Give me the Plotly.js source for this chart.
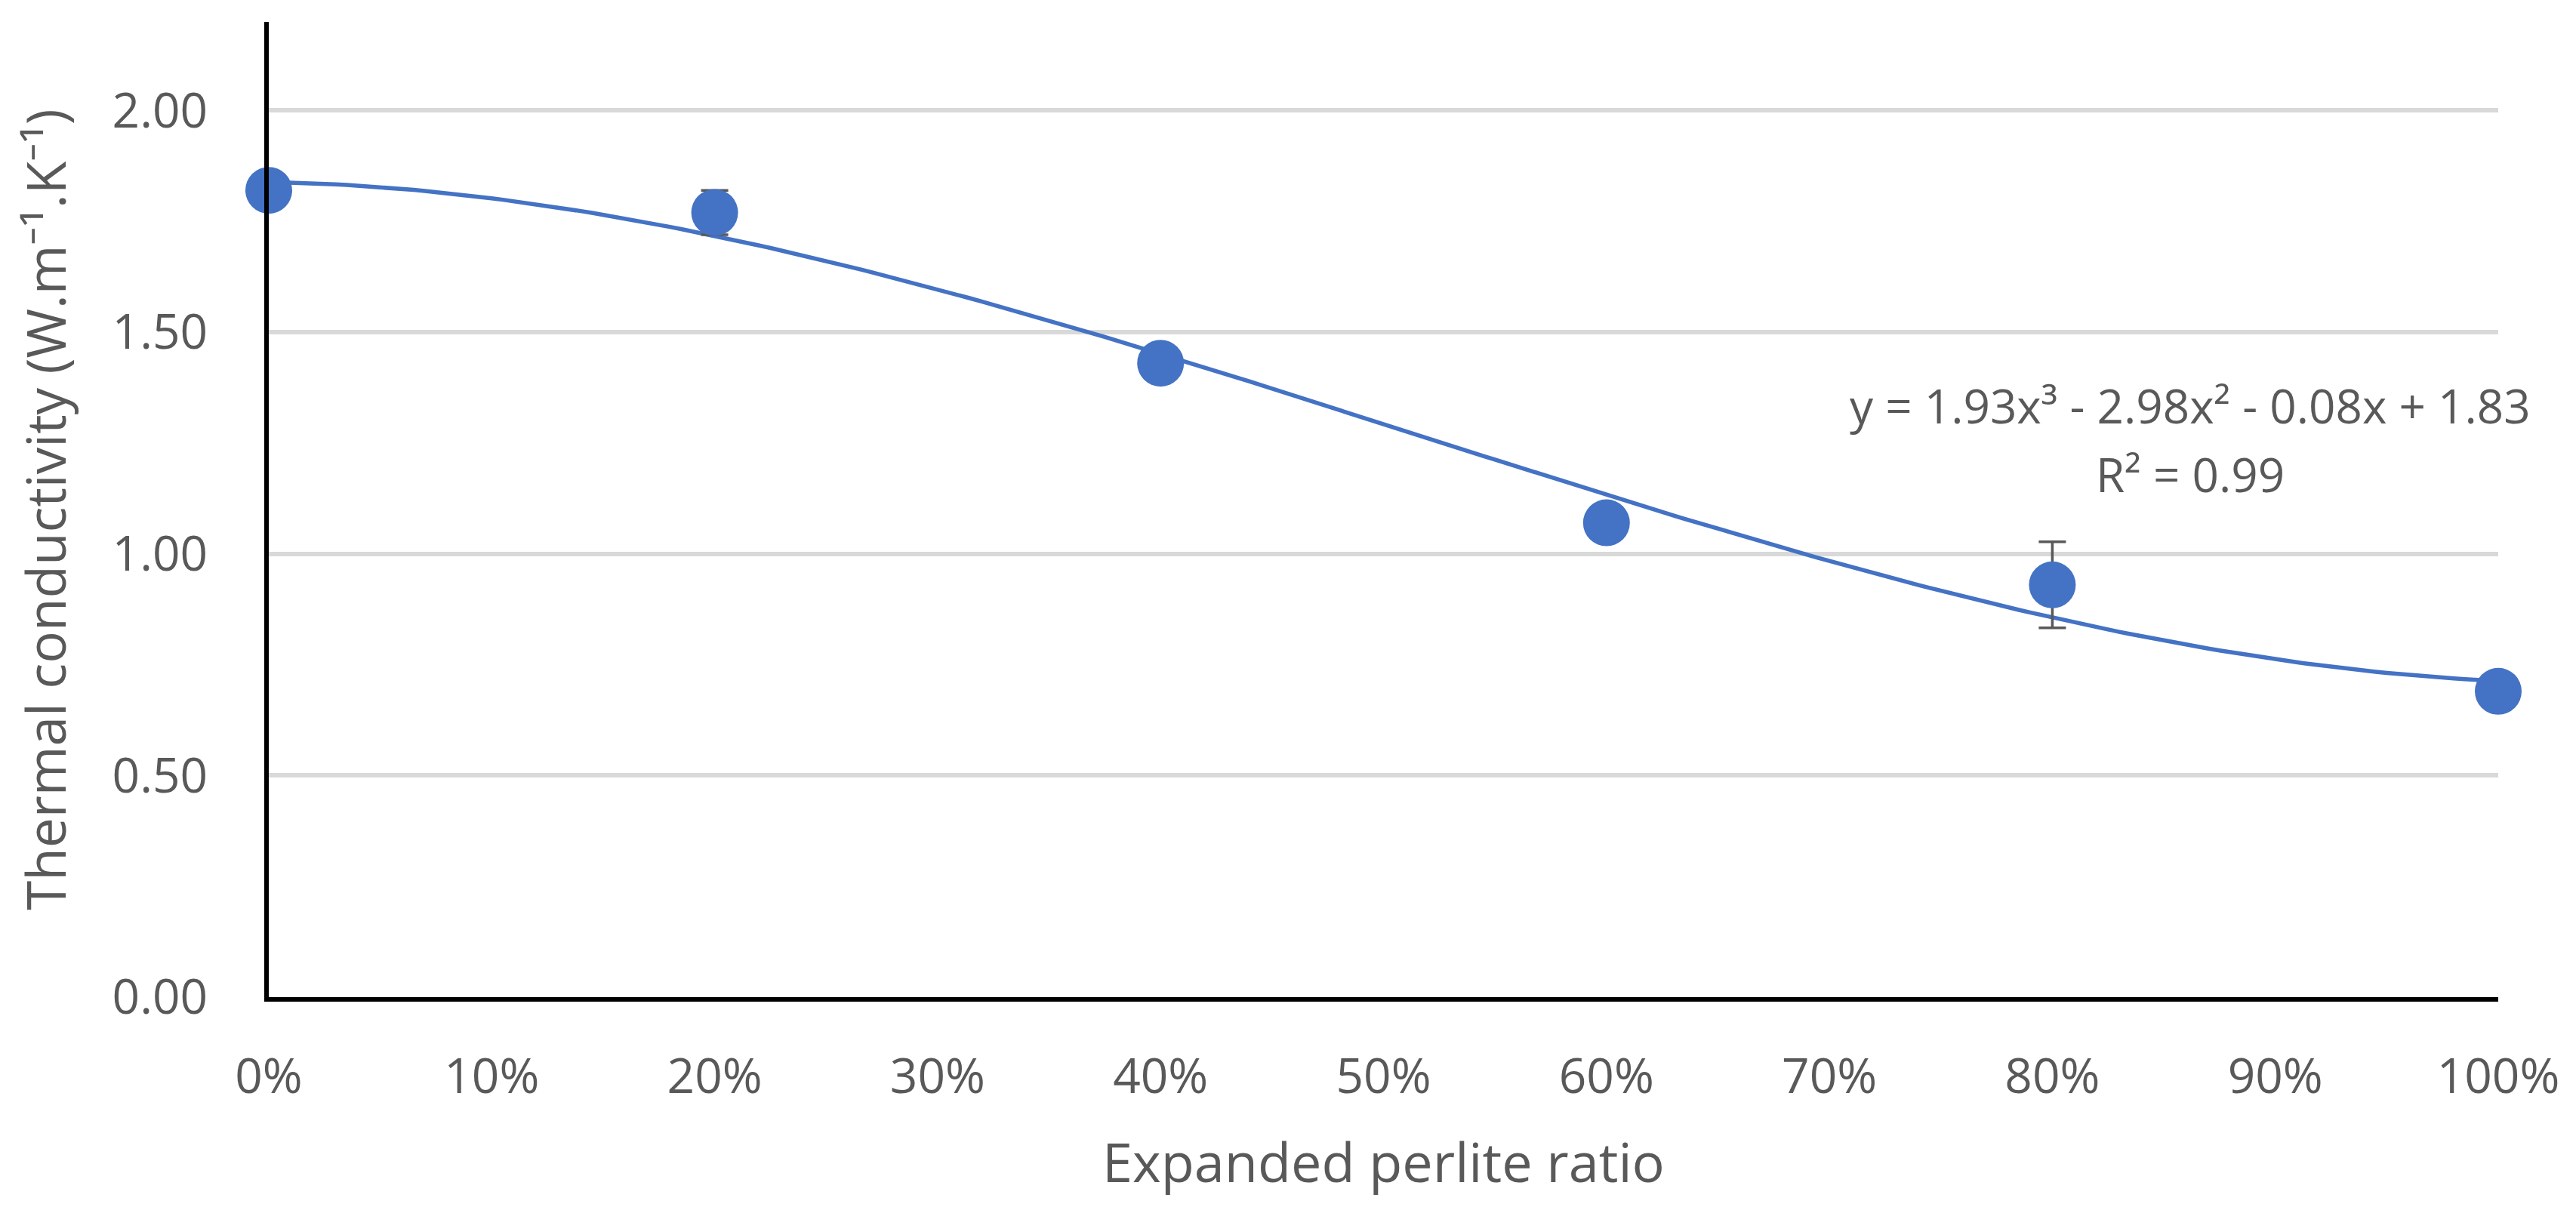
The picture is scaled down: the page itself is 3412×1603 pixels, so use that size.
<!DOCTYPE html>
<html>
<head>
<meta charset="utf-8">
<script src="https://cdn.plot.ly/plotly-3.0.1.min.js"></script>
<style>html,body{margin:0;padding:0;background:#fff;}#chart{width:3412px;height:1603px;}</style>
</head>
<body>
<div id="chart"></div>
<script>
// ---- data ----
const perliteRatio = [0, 0.2, 0.4, 0.6, 0.8, 1.0];
const conductivity = [1.82, 1.77, 1.43, 1.07, 0.93, 0.69];
const conductivityError = [0.02, 0.05, 0.02, 0.02, 0.097, 0.02];
const yTickValues = [0, 0.5, 1.0, 1.5, 2.0];
const xTickValues = [0, 0.1, 0.2, 0.3, 0.4, 0.5, 0.6, 0.7, 0.8, 0.9, 1.0];
const equationText = 'y = 1.93x\u00B3 - 2.98x\u00B2 - 0.08x + 1.83';
const r2Text = 'R\u00B2 = 0.99';
const xTitle = 'Expanded perlite ratio';
const yTitle = 'Thermal conductivity (W.m\u207B\u00B9.K\u207B\u00B9)';

// ---- cubic least-squares trendline fitted to the data ----
function polyFit(xs, ys, deg) {
  const n = deg + 1;
  const A = Array.from({length: n}, () => new Array(n + 1).fill(0));
  for (let k = 0; k < xs.length; k++) {
    for (let i = 0; i < n; i++) {
      for (let j = 0; j < n; j++) A[i][j] += Math.pow(xs[k], i + j);
      A[i][n] += ys[k] * Math.pow(xs[k], i);
    }
  }
  for (let c = 0; c < n; c++) {
    let p = c;
    for (let r = c + 1; r < n; r++) if (Math.abs(A[r][c]) > Math.abs(A[p][c])) p = r;
    [A[c], A[p]] = [A[p], A[c]];
    for (let r = 0; r < n; r++) {
      if (r === c) continue;
      const f = A[r][c] / A[c][c];
      for (let j = c; j <= n; j++) A[r][j] -= f * A[c][j];
    }
  }
  return A.map((row, i) => row[n] / row[i]);
}
const coef = polyFit(perliteRatio, conductivity, 3);
const trendX = [], trendY = [];
const x0 = Math.min(...perliteRatio), x1 = Math.max(...perliteRatio);
for (let i = 0; i <= 200; i++) {
  const x = x0 + (x1 - x0) * i / 200;
  trendX.push(x);
  trendY.push(coef.reduce((s, c, k) => s + c * Math.pow(x, k), 0));
}

const BLUE = '#4472C4';
const GREY = '#595959';
const FONT = '"Open Sans", "Noto Sans", "DejaVu Sans", sans-serif';

const traces = [
  {
    x: trendX, y: trendY, type: 'scatter', mode: 'lines',
    line: {color: BLUE, width: 5.5}, hoverinfo: 'skip', showlegend: false
  },
  {
    x: perliteRatio, y: conductivity, type: 'scatter', mode: 'markers',
    marker: {color: BLUE, size: 62, line: {width: 0}},
    error_y: {type: 'data', array: conductivityError, visible: true, color: GREY, thickness: 3.5, width: 18},
    cliponaxis: false, showlegend: false
  }
];

const layout = {
  width: 3412, height: 1603,
  paper_bgcolor: '#ffffff', plot_bgcolor: '#ffffff',
  margin: {l: 356, r: 103, t: 29, b: 282},
  font: {family: FONT, color: GREY, size: 64},
  showlegend: false,
  xaxis: {
    range: [0, 1], tickvals: xTickValues, tickformat: '.0%',
    showgrid: false, zeroline: false,
    showline: true, linecolor: '#000000', linewidth: 6,
    ticks: '', ticklabelstandoff: 44,
    tickfont: {family: FONT, size: 64, color: GREY},
    title: {text: xTitle, font: {family: FONT, size: 72, color: GREY}, standoff: 52},
    automargin: false
  },
  yaxis: {
    range: [0, 2.2], tickvals: yTickValues, tickformat: '.2f',
    showgrid: true, gridcolor: '#D9D9D9', gridwidth: 6,
    zeroline: false,
    showline: true, linecolor: '#000000', linewidth: 6,
    ticks: '', ticklabelstandoff: 62,
    tickfont: {family: FONT, size: 64, color: GREY},
    title: {text: yTitle, font: {family: FONT, size: 71, color: GREY}, standoff: 40},
    automargin: false
  },
  annotations: [
    {text: equationText, xref: 'paper', yref: 'paper', x: 0.862, y: 0.607,
     xanchor: 'center', yanchor: 'middle', showarrow: false,
     font: {family: FONT, size: 62, color: GREY}},
    {text: r2Text, xref: 'paper', yref: 'paper', x: 0.862, y: 0.536,
     xanchor: 'center', yanchor: 'middle', showarrow: false,
     font: {family: FONT, size: 62, color: GREY}}
  ]
};

Plotly.newPlot('chart', traces, layout, {staticPlot: true, displayModeBar: false});
</script>
</body>
</html>
